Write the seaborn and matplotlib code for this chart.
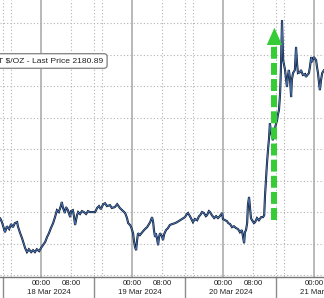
import matplotlib
matplotlib.use("Agg")
import matplotlib.pyplot as plt
import matplotlib.dates as mdates
import matplotlib.transforms as mtransforms
import pandas as pd
import seaborn as sns

# ---- data (hours relative to 18 Mar 2024 00:00, gold spot $/oz) ----
hours = [-10.8, -10.3, -9.5, -9.0, -8.4, -7.9, -7.4, -6.9, -6.3, -6.1, -5.5, -5.0, -4.7, -4.2,
         -3.7, -3.2, -2.6, -2.1, -1.6, -1.1, -0.5, 0.0, 0.5, 1.1, 1.6, 2.1, 2.6, 3.2, 3.7, 4.2,
         4.7, 5.3, 5.5, 5.8, 6.3, 6.6, 7.1, 7.7, 7.9, 8.4, 8.7, 9.0, 9.5, 9.8, 10.3, 10.8, 11.3,
         11.9, 12.4, 12.9, 13.7, 14.3, 14.8, 15.3, 15.8, 16.4, 16.9, 17.4, 18.2, 18.7, 19.5,
         20.1, 20.3, 20.8, 21.4, 21.9, 22.2, 22.7, 23.0, 23.5, 23.8, 24.3, 24.5, 24.8, 25.1,
         25.3, 25.6, 26.1, 26.7, 27.2, 27.7, 28.0, 28.5, 28.8, 29.3, 29.6, 29.8, 30.1, 30.3,
         30.6, 30.9, 31.1, 31.4, 31.9, 32.2, 32.5, 33.0, 33.5, 34.0, 34.6, 35.4, 35.9, 36.7,
         37.2, 38.0, 38.5, 38.8, 39.3, 40.1, 40.6, 41.2, 41.7, 42.0, 42.5, 43.0, 43.5, 43.8,
         44.3, 44.6, 45.1, 45.7, 46.2, 46.7, 47.2, 47.8, 48.0, 48.6, 49.1, 49.4, 49.9, 50.4,
         50.9, 51.5, 52.0, 52.5, 53.0, 53.3, 53.6, 53.8, 54.1, 54.4, 54.6, 54.9, 55.2, 55.4,
         55.7, 56.2, 56.5, 57.0, 57.5, 58.1, 58.6, 58.9, 59.1, 59.4, 59.6, 59.9, 60.2, 60.4,
         60.7, 61.0, 61.2, 61.5, 61.8, 62.0, 62.3, 62.5, 62.8, 63.1, 63.3, 63.6, 63.9, 64.1,
         64.4, 64.7, 64.9, 65.2, 65.4, 65.7, 66.0, 66.2, 66.5, 67.0, 67.3, 67.6, 67.8, 68.4,
         68.6, 69.1, 69.7, 69.9, 70.5, 70.7, 71.0, 71.3, 71.5, 72.0, 72.6, 72.8, 73.1, 73.4,
         73.6, 73.9, 74.2, 74.7]
prices = [2158.1, 2156.8, 2153.6, 2155.5, 2154.6, 2156.2, 2155.2, 2156.5, 2156.8, 2155.5,
          2153.3, 2151.7, 2150.5, 2148.6, 2147.3, 2148.2, 2147.3, 2147.9, 2147.3, 2148.2,
          2147.6, 2148.6, 2149.5, 2150.5, 2152.1, 2153.3, 2154.9, 2156.5, 2158.4, 2160.6,
          2160.0, 2162.2, 2163.2, 2161.3, 2159.7, 2161.6, 2160.6, 2158.4, 2160.3, 2160.6,
          2158.7, 2155.9, 2159.0, 2160.0, 2159.4, 2160.3, 2160.0, 2159.4, 2160.3, 2160.0,
          2160.0, 2160.0, 2161.3, 2161.9, 2160.9, 2162.5, 2162.8, 2161.9, 2162.2, 2161.3,
          2161.6, 2162.5, 2162.2, 2161.3, 2160.6, 2160.0, 2159.7, 2158.1, 2156.5, 2155.9,
          2155.2, 2153.3, 2151.1, 2148.9, 2147.9, 2150.5, 2153.3, 2152.7, 2153.6, 2154.3,
          2154.9, 2155.2, 2156.2, 2156.8, 2158.4, 2156.8, 2154.3, 2152.1, 2153.3, 2151.7,
          2149.5, 2151.7, 2153.3, 2152.4, 2151.1, 2153.0, 2154.3, 2154.9, 2155.9, 2156.2,
          2156.5, 2156.8, 2157.4, 2157.8, 2158.4, 2159.4, 2159.7, 2158.7, 2156.8, 2157.8,
          2157.4, 2158.7, 2159.0, 2160.0, 2159.7, 2158.7, 2159.0, 2160.3, 2160.0, 2159.0,
          2158.1, 2158.7, 2158.1, 2158.7, 2159.7, 2157.8, 2157.4, 2157.1, 2156.5, 2156.2,
          2155.2, 2155.5, 2154.9, 2154.6, 2153.6, 2154.3, 2152.1, 2150.1, 2153.6, 2154.3,
          2156.5, 2162.2, 2164.8, 2160.6, 2158.1, 2157.4, 2156.5, 2156.8, 2158.1, 2157.4,
          2158.4, 2158.4, 2159.0, 2164.8, 2171.1, 2174.9, 2179.7, 2183.8, 2188.2, 2185.4,
          2183.8, 2182.8, 2185.4, 2187.0, 2187.9, 2189.2, 2190.8, 2192.4, 2197.8, 2205.1,
          2220.9, 2208.2, 2207.0, 2205.1, 2201.9, 2199.7, 2203.5, 2205.1, 2202.5, 2196.5,
          2201.9, 2204.1, 2205.1, 2212.4, 2206.7, 2204.1, 2204.4, 2205.1, 2203.5, 2203.8,
          2202.9, 2203.8, 2204.1, 2206.3, 2209.2, 2207.6, 2209.2, 2208.2, 2206.3, 2204.1,
          2200.6, 2198.7, 2201.9, 2204.1, 2205.1]

start = pd.Timestamp("2024-03-18 00:00")
day_hours = [0, 24, 48, 72]                 # 00:00 gridlines
tick_hours = [0, 8, 24, 32, 48, 56, 72]     # labelled ticks
tick_labels = ["00:00", "08:00", "00:00", "08:00", "00:00", "08:00", "00:00"]
dotted_hours = [-10, -8, 8, 14, 16, 32, 38, 40, 56, 62, 64]
separator_hours = [-10, 14, 38, 62]
date_label_hours = [2, 26, 50, 74]
date_labels = ["18 Mar 2024", "19 Mar 2024", "20 Mar 2024", "21 Mar 2024"]
price_grid = [2140, 2150, 2160, 2170, 2180, 2190, 2200, 2210, 2220]
legend_text = "T $/OZ - Last Price 2180.89"
arrow_hour, arrow_low, arrow_high = 61.6, 2157.5, 2219.4

def T(h):
    return start + pd.Timedelta(hours=h)

df = pd.DataFrame({"time": [T(h) for h in hours], "price": prices})

sns.set_style("white")
plt.rcParams["font.family"] = ["Liberation Sans", "DejaVu Sans"]

fig = plt.figure(figsize=(3.24, 2.98), dpi=100)
ax = fig.add_axes([0, 21 / 298, 1, 277 / 298])

# grid
for p in price_grid:
    ax.axhline(p, color="#b3b3b3", lw=0.8, ls=(0, (1, 2)), zorder=0)
for h in dotted_hours:
    ax.axvline(T(h), color="#b3b3b3", lw=0.8, ls=(0, (1, 2)), zorder=0)
for h in day_hours:
    ax.axvline(T(h), color="#a6a6a6", lw=1.1, zorder=0)
for h in separator_hours:
    ax.axvline(T(h), ymin=-21 / 277, ymax=0, color="#8c8c8c", lw=1.0, clip_on=False)

# price line
sns.lineplot(data=df, x="time", y="price", ax=ax, color="#0c1a33", lw=1.5,
             estimator=None, sort=False, zorder=3)
ax.lines[-1].set_solid_joinstyle("miter")
sns.lineplot(data=df, x="time", y="price", ax=ax, color="#5a8ad0", lw=0.5,
             estimator=None, sort=False, zorder=4)

# green arrow
green = "#35cc35"
ax.plot([T(arrow_hour), T(arrow_hour)], [arrow_low, arrow_high - 4.0], color=green,
        lw=4.3, ls=(0, (2.0, 0.7)), solid_capstyle="butt", dash_capstyle="butt", zorder=5)
ax.annotate("", xy=(T(arrow_hour), arrow_high), xytext=(T(arrow_hour), arrow_high - 4.5),
            arrowprops=dict(arrowstyle="-|>,head_width=0.55,head_length=1.25",
                            color=green, lw=0, mutation_scale=10), zorder=6)

ax.set_xlim(T(-10.82), T(74.68))
ax.set_ylim(2139.4, 2227.3)

ax.set_xticks([T(h) for h in tick_hours])
ax.set_xticklabels(tick_labels)
ax.tick_params(axis="x", length=0, pad=2.2, labelsize=5.6, colors="#222222")
ax.tick_params(axis="y", left=False, labelleft=False)
ax.set_xlabel("")
ax.set_ylabel("")

trans = mtransforms.blended_transform_factory(ax.transData, ax.transAxes)
for h, lab in zip(date_label_hours, date_labels):
    ax.text(T(h), -16 / 277, lab, transform=trans, ha="center", va="center",
            fontsize=5.6, color="#222222", clip_on=False)

for s in ["top", "left", "right"]:
    ax.spines[s].set_visible(False)
ax.spines["bottom"].set_color("#777777")
ax.spines["bottom"].set_linewidth(1.0)

ax.text(-0.006, (277 - 61) / 277, legend_text, transform=ax.transAxes, ha="left",
        va="center", fontsize=6.1, color="#222222", zorder=7,
        bbox=dict(boxstyle="round,pad=0.45,rounding_size=0.4", fc="white", ec="#8a8a8a", lw=1.0))

fig.savefig("out.png", dpi=100)
